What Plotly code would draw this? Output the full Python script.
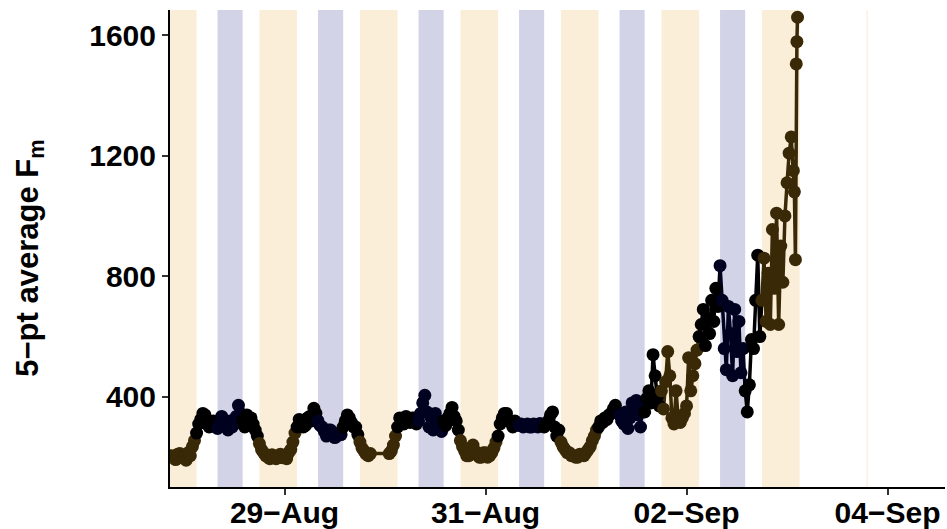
import pandas as pd
import plotly.graph_objects as go

# ---------------- data ----------------
# half-hourly 5-pt average Fm (None = no measurement)
fm_aug27 = [205, 198, 192, 210, 212, 200]                    # from 21:00
fm_aug28 = [198, 190, 215, 205, 235, 255, 280, 310, 325, 345, 340, 310,
            300, 318, 320, 300, 295, 310, 335, 315, 300, 290, 320, 300,
            310, 335, 372, 345, 320, 300, 340, 325, 330, 310, 290, 270,
            245, 225, 215, 205, 200, 195, 208, 200, 195, 205, 210, 198]
fm_aug29 = [200, 195, 215, 225, 250, 280, 300, 325, 320, 300, 305, 330,
            335, 320, 362, 345, 320, 305, 300, 285, 270, 290, 290, 275,
            265, 270, 280, 275, 300, 320, 340, 330, 315, 300, 300, 275,
            250, 230, 220, 210, 205, 212, None, None, None, None, None, None]
fm_aug30 = [None, None, 212, 220, 240, 270, 300, 330, 325, 310, 335, 320,
            315, 330, 330, 310, 320, 345, 380, 405, 350, 300, 330, 290,
            345, 320, 300, 285, 320, 305, 330, 345, 365, 335, 320, 290,
            255, 235, 220, 205, 205, 225, 240, 220, 210, 200, 200, 215]
fm_aug31 = [215, 200, 205, 215, 230, 250, 270, 310, 330, 345, 345, 320,
            315, 300, 320, 310, 305, 310, 300, 305, 310, 300, 300, 310,
            305, 300, 312, 305, 300, 310, 320, 340, 350, 300, 270, 290,
            250, 235, 225, 215, 215, 205, 205, 200, 200, 210, 210, 205]
fm_sep01 = [215, 225, 235, 255, 270, 290, 300, 320, 315, 330, 325, 340,
            345, 360, 372, 350, 340, 320, 310, 350, 295, 330, 380, 350,
            388]                                              # to 12:00

# noisier part: hours after 2021-09-01 00:00 and values
late_hours = [12.5, 13.0, 13.5, 14.0, 14.5, 15.0, 15.5, 16.0, 16.5, 17.0,
              17.5, 18.0, 18.5, 19.0, 19.5, 20.0, 20.5, 21.0, 21.5, 22.0,
              22.5, 23.0, 23.5, 24.0, 24.5, 25.0, 25.5, 26.0, 26.5, 27.0,
              27.5, 28.0, 28.5, 29.0, 29.5, 30.0, 30.5, 31.0, 31.5, 32.0,
              32.5, 33.0, 33.5, 34.0, 34.5, 35.0, 35.5, 36.0, 36.5, 37.0,
              37.5, 38.0, 38.5, 39.0, 39.5, 40.0, 40.5, 41.0, 41.5, 42.0,
              42.5, 43.0, 43.5, 44.0, 44.5, 45.0, 45.5, 46.0, 46.5, 47.0,
              47.5, 48.0, 48.5, 49.0, 49.5, 49.75, 50.0, 50.2, 50.35, 50.5]
late_fm = [340, 300, 380, 350, 395, 420, 380, 540, 470, 400,
           370, 420, 360, 450, 550, 470, 330, 310, 420, 330,
           315, 330, 345, 370, 530, 420, 470, 510, 555, 600,
           640, 690, 570, 660, 610, 720, 650, 760, 700, 835,
           720, 560, 490, 700, 610, 470, 690, 550, 650, 480,
           560, 420, 350, 440, 590, 560, 720, 870, 600, 720,
           860, 650, 810, 640, 955, 760, 1009, 640, 900, 780,
           1000, 1110, 1208, 1262, 1150, 1080, 855, 1504, 1578, 1659]

# shaded periods
tan_starts = ["2021-08-27 18:00", "2021-08-28 18:00", "2021-08-29 18:00",
              "2021-08-30 18:00", "2021-08-31 18:00", "2021-09-01 18:00",
              "2021-09-02 18:00"]
tan_hours = 9
lav_starts = ["2021-08-28 08:00", "2021-08-29 08:00", "2021-08-30 08:00",
              "2021-08-31 08:00", "2021-09-01 08:00", "2021-09-02 08:00"]
lav_hours = 6
faint_start = "2021-09-03 19:00"

tick_dates = ["2021-08-29", "2021-08-31", "2021-09-02", "2021-09-04"]
tick_labels = ["29\u2212Aug", "31\u2212Aug", "02\u2212Sep", "04\u2212Sep"]
y_ticks = [400, 800, 1200, 1600]

# ---------------- build series ----------------
start = pd.Timestamp("2021-08-27 21:00")
half_hourly = fm_aug27 + fm_aug28 + fm_aug29 + fm_aug30 + fm_aug31 + fm_sep01
times, vals = [], []
for i, v in enumerate(half_hourly):
    if v is not None:
        times.append(start + pd.Timedelta(minutes=30 * i))
        vals.append(v)
base2 = pd.Timestamp("2021-09-01 00:00")
for h, v in zip(late_hours, late_fm):
    times.append(base2 + pd.Timedelta(hours=h))
    vals.append(v)

BROWN = "#3a2907"
NAVY = "#010120"
BLACK = "#000000"


def phase_color(ts):
    h = ts.hour + ts.minute / 60
    if h >= 18 or h < 3:
        return BROWN
    if 8 <= h < 14:
        return NAVY
    return BLACK


cols = [phase_color(t) for t in times]

fig = go.Figure()

# line segments coloured by the starting point
i = 0
n = len(times)
while i < n - 1:
    j = i
    while j + 1 < n - 1 and cols[j + 1] == cols[i]:
        j += 1
    seg = slice(i, j + 2)
    fig.add_trace(go.Scatter(x=times[seg], y=vals[seg], mode="lines",
                             line=dict(color=cols[i], width=3.5),
                             hoverinfo="skip", showlegend=False))
    i = j + 1

fig.add_trace(go.Scatter(x=times, y=vals, mode="markers",
                         marker=dict(color=cols, size=13, line=dict(width=0)),
                         showlegend=False))

shapes = []
for s in tan_starts:
    t0 = pd.Timestamp(s)
    shapes.append(dict(type="rect", xref="x", yref="paper", x0=t0,
                       x1=t0 + pd.Timedelta(hours=tan_hours), y0=0, y1=1,
                       fillcolor="#faeed9", line=dict(width=0), layer="below"))
for s in lav_starts:
    t0 = pd.Timestamp(s)
    shapes.append(dict(type="rect", xref="x", yref="paper", x0=t0,
                       x1=t0 + pd.Timedelta(hours=lav_hours), y0=0, y1=1,
                       fillcolor="#d3d3e8", line=dict(width=0), layer="below"))
t0 = pd.Timestamp(faint_start)
shapes.append(dict(type="rect", xref="x", yref="paper", x0=t0,
                   x1=t0 + pd.Timedelta(minutes=15), y0=0, y1=1,
                   fillcolor="#f7edd8", line=dict(width=0), layer="below"))

font_family = "Liberation Sans, Arial, Helvetica, sans-serif"
fig.update_layout(
    width=947, height=529,
    margin=dict(l=170, r=2, t=10, b=42),
    paper_bgcolor="white", plot_bgcolor="white",
    shapes=shapes,
    font=dict(family=font_family, color="black"),
    xaxis=dict(type="date",
               range=["2021-08-27 20:39", "2021-09-04 13:43"],
               tickvals=tick_dates, ticktext=tick_labels,
               showgrid=False, zeroline=False,
               showline=True, linecolor="black", linewidth=2,
               ticks="outside", ticklen=6, tickwidth=2, tickcolor="#333333",
               ticklabelstandoff=-8,
               tickfont=dict(size=30, weight="bold", family=font_family),
               automargin=False),
    yaxis=dict(range=[101, 1683], tickvals=y_ticks,
               showgrid=False, zeroline=False,
               showline=True, linecolor="black", linewidth=2,
               ticks="outside", ticklen=6, tickwidth=2, tickcolor="#333333",
               tickfont=dict(size=30, weight="bold", family=font_family),
               automargin=False),
    annotations=[dict(text="5\u2212pt average F<sub>m</sub>", textangle=-90,
                      xref="paper", yref="paper", x=-0.181, y=0.48,
                      xanchor="center", yanchor="middle", showarrow=False,
                      font=dict(size=31, weight="bold", family=font_family))],
)

fig.write_html("out.html")
